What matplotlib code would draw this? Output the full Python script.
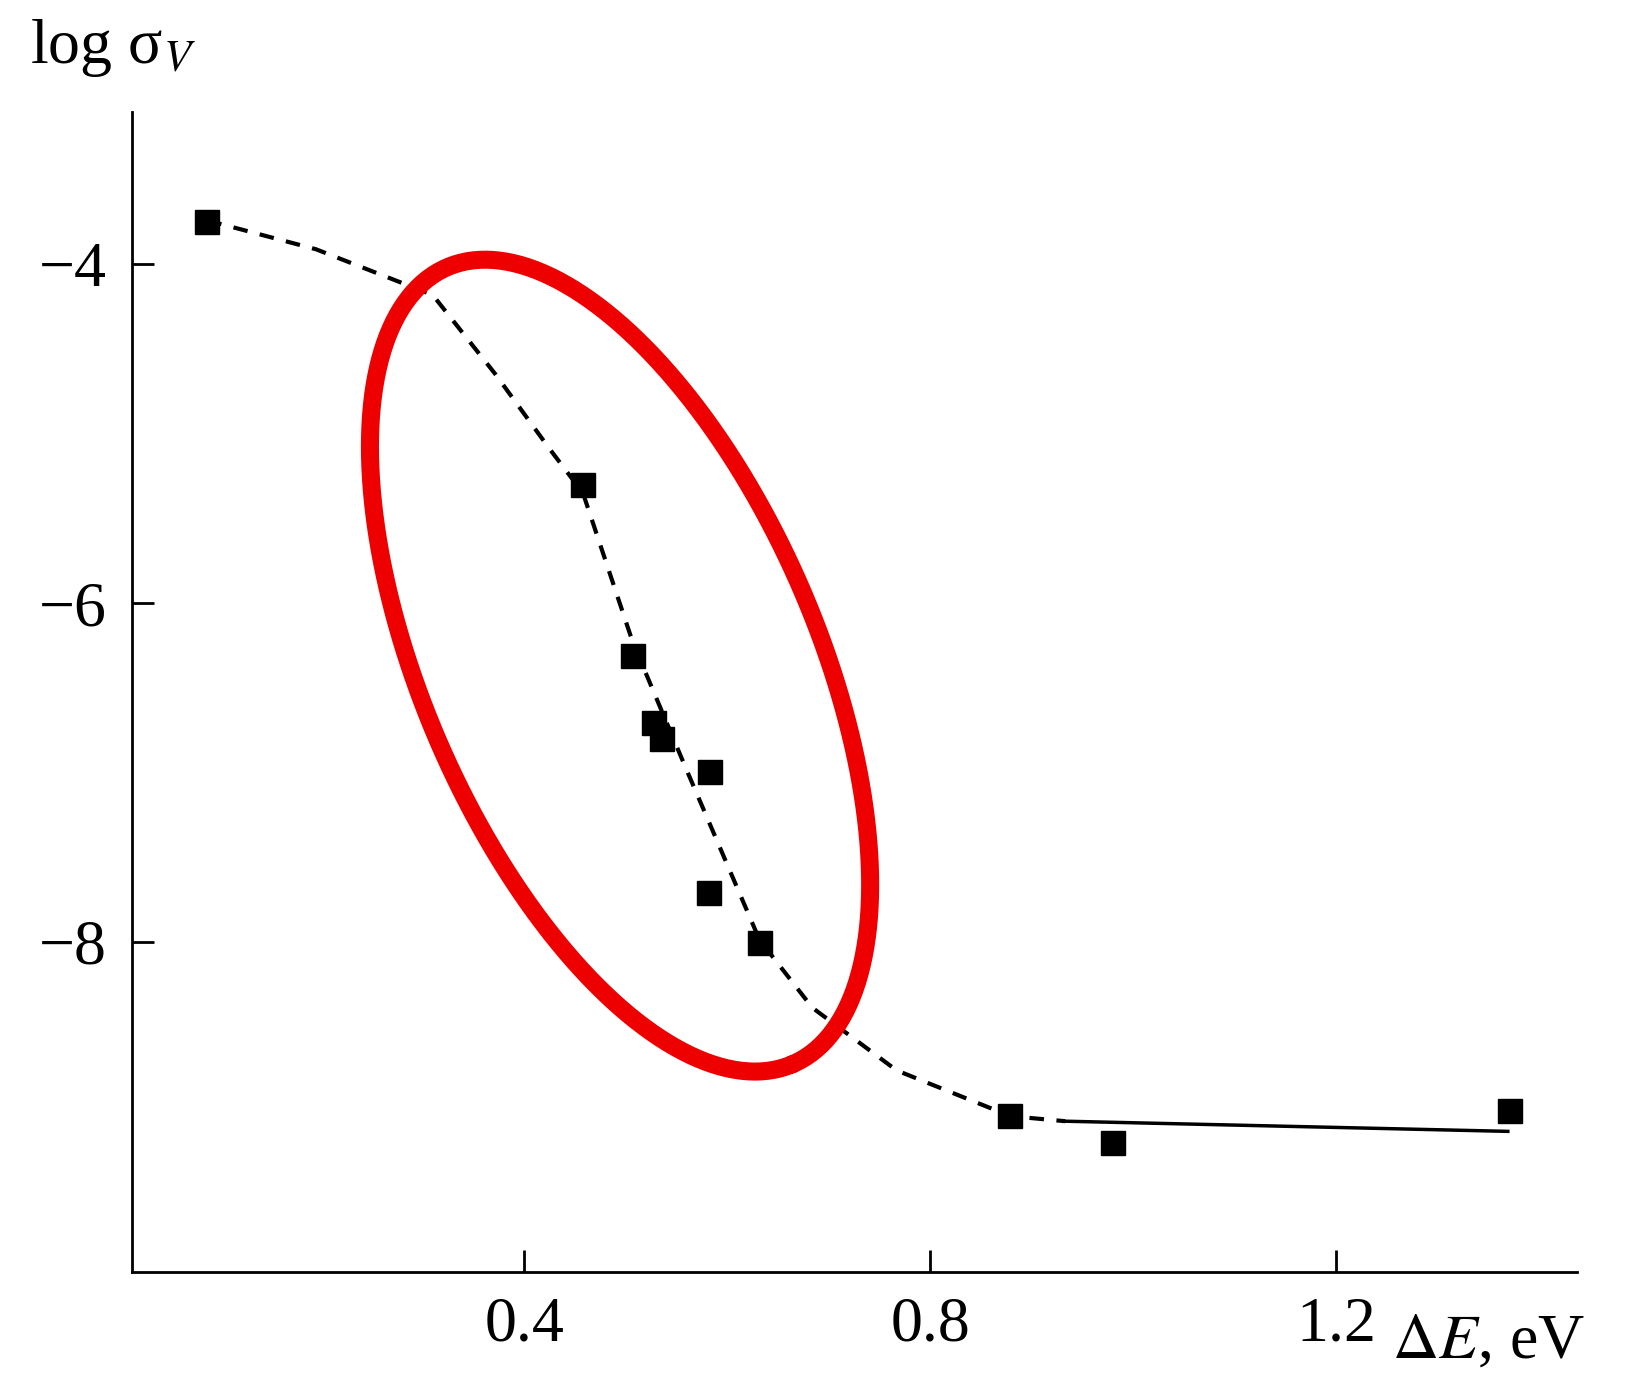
import numpy as np
import matplotlib.pyplot as plt

# measured points
de = [0.088, 0.458, 0.507, 0.528, 0.536, 0.583, 0.582, 0.632, 0.879, 0.980, 1.371]
log_sigma = [-3.75, -5.30, -6.31, -6.71, -6.80, -7.00, -7.71, -8.01, -9.03, -9.19, -9.00]

# dashed guide curve
curve_x = [0.088, 0.195, 0.31, 0.372, 0.424, 0.458, 0.507, 0.559, 0.632, 0.684, 0.767, 0.879, 0.933]
curve_y = [-3.74, -3.91, -4.18, -4.65, -5.08, -5.35, -6.23, -6.97, -7.99, -8.39, -8.76, -9.03, -9.06]

# solid tail
solid_x = [0.933, 1.369]
solid_y = [-9.06, -9.12]

plt.rcParams['font.family'] = ['Liberation Serif', 'DejaVu Serif']
plt.rcParams['mathtext.fontset'] = 'stix'

fig = plt.figure(figsize=(16.46, 13.84), dpi=100)
ax = fig.add_axes([0.080, 0.081, 0.878, 0.838])
ax.set_xlim(0.0135, 1.437)
ax.set_ylim(-9.95, -3.1)

ax.plot(curve_x, curve_y, color='black', linestyle=(0, (3.5, 3)), linewidth=3)
ax.plot(solid_x, solid_y, color='black', linewidth=2.5)
ax.plot(de, log_sigma, 's', color='black', markersize=17)

# red ellipse, built in pixel space (y down) then mapped to data
t = np.linspace(0, 2 * np.pi, 400)
a, b = 416.0, 187.0
th = np.deg2rad(66.9)
px = 588 + a * np.cos(t) * np.cos(th) - b * np.sin(t) * np.sin(th)
py = 640 + a * np.cos(t) * np.sin(th) + b * np.sin(t) * np.cos(th)
ex = (px - 112) / 962.5
ey = -4 - (py - 255) / 162.5
ax.plot(ex, ey, color='#ee0000', linewidth=13, solid_capstyle='round')

for side in ['top', 'right']:
    ax.spines[side].set_visible(False)
for side in ['left', 'bottom']:
    ax.spines[side].set_linewidth(2)

ax.set_xticks([0.4, 0.8, 1.2])
ax.set_xticklabels(['0.4', '0.8', '1.2'])
ax.set_yticks([-4, -6, -8])
ax.set_yticklabels(['\u22124', '\u22126', '\u22128'])
ax.tick_params(direction='in', length=16, width=2, labelsize=46, pad=18)

ax.text(1.255, -10.37, r'$\Delta E$, eV', fontsize=46, va='center', ha='left')
fig.text(0.018, 0.965, r'log σ$_V$', fontsize=46, va='center', ha='left')

fig.savefig('out.png', dpi=100)
